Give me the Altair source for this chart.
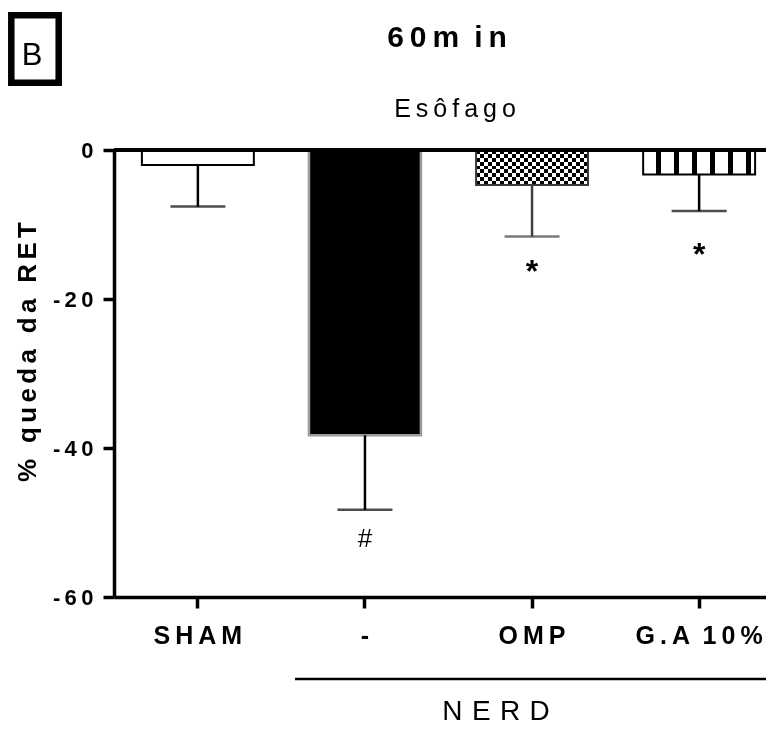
import altair as alt
import pandas as pd

# ---- data ----
groups = ["SHAM", "-", "OMP", "G.A 10%"]
means = [-2.0, -38.3, -4.7, -3.3]
sds = [5.6, 10.0, 6.9, 4.9]
marks = ["", "#", "*", "*"]
mark_y = [None, -52.2, -16.4, -14.1]
y_ticks = [0, -20, -40, -60]

title_txt = "60m in"
sub_txt = "Esôfago"
panel_txt = "B"
ytitle_txt = "% queda da RET"
group_txt = "NERD"

FONT = "Liberation Sans"
THIN = "\u2009"
SIX = "\u2006"
EN = "\u2002"


def spaced(s, sep=THIN):
    return sep.join(list(s))


df = pd.DataFrame({"group": groups, "mean": means, "sd": sds,
                   "mark": marks, "mark_y": mark_y})
df["low"] = df["mean"] - df["sd"]
one = pd.DataFrame({"k": [0]})

W, H = 652, 447
XR = 669

# ---- fill patterns (style only) ----
def alt_stops(n):
    stops = []
    for i in range(n):
        c = "#000000" if i % 2 == 0 else "#ffffff"
        stops.append(alt.GradientStop(offset=i / n, color=c))
        stops.append(alt.GradientStop(offset=(i + 1) / n, color=c))
    return stops

check_v = alt.LinearGradient(gradient="linear", stops=alt_stops(28), x1=0, x2=1, y1=0, y2=0)
check_h = alt.LinearGradient(gradient="linear", stops=alt_stops(9), x1=0, x2=0, y1=0, y2=1)

ga_stops = [alt.GradientStop(offset=0, color="#ffffff")]
start, width, period = 13 / 112, 5 / 112, 18 / 112
for k in range(6):
    a = start + k * period
    b = min(a + width, 1)
    ga_stops += [alt.GradientStop(offset=a, color="#ffffff"),
                 alt.GradientStop(offset=a, color="#000000"),
                 alt.GradientStop(offset=b, color="#000000"),
                 alt.GradientStop(offset=b, color="#ffffff")]
ga_stops.append(alt.GradientStop(offset=1, color="#ffffff"))
ga_grad = alt.LinearGradient(gradient="linear", stops=ga_stops, x1=0, x2=1, y1=0, y2=0)

# ---- encodings ----
xs = alt.Scale(domain=groups, range=[0, XR], paddingInner=0.33, paddingOuter=0.167)
x_label_expr = (f"replace(join(split(datum.label, ''), '{THIN}'), "
                f"regexp('{THIN} {THIN}', 'g'), '{EN}')")
x_axis = alt.Axis(title=None, labelExpr=x_label_expr,
                  labelFont=FONT, labelFontSize=25, labelFontWeight="bold",
                  labelColor="black", labelAngle=0, labelPadding=15,
                  tickSize=11, tickWidth=3.5, tickColor="black",
                  domainWidth=3.5, domainColor="black", grid=False)
X = alt.X("group:N", sort=groups, scale=xs, axis=x_axis)

ys = alt.Scale(domain=[-60, 0], nice=False, zero=False)
y_axis = alt.Axis(title=None, values=y_ticks,
                  labelExpr=f"join(split('' + datum.value, ''), '{THIN}')",
                  labelFont=FONT, labelFontSize=22, labelFontWeight="bold",
                  labelColor="black", labelPadding=10,
                  tickSize=11, tickWidth=3.5, tickColor="black",
                  domainWidth=3.5, domainColor="black", grid=False)


def Y(field):
    return alt.Y(field, type="quantitative", scale=ys, axis=y_axis)


base = alt.Chart(df)

def bar_layer(g, **kw):
    return base.transform_filter(alt.datum.group == g).mark_bar(**kw).encode(
        x=X, y=Y("mean"), y2=alt.datum(0))

sham = bar_layer("SHAM", fill="#ffffff", stroke="#000000", strokeWidth=2)
nerd = bar_layer("-", fill="#000000", stroke="#9b9b9b", strokeWidth=2.5)
omp_v = bar_layer("OMP", fill=check_v, strokeWidth=0)
omp_h = bar_layer("OMP", fill=check_h, strokeWidth=0, blend="difference")
omp_o = bar_layer("OMP", fill="transparent", stroke="#3a3a3a", strokeWidth=2)
ga = bar_layer("G.A 10%", fill=ga_grad, stroke="#000000", strokeWidth=2)

err_color = alt.Color("group:N", scale=alt.Scale(domain=groups,
                      range=["#000000", "#000000", "#404040", "#000000"]), legend=None)
err_line = base.mark_rule(strokeWidth=2.5).encode(x=X, y=Y("mean"), y2="low:Q", color=err_color)
err_cap = base.mark_tick(size=55, thickness=2.5).encode(x=X, y=Y("low"), color=err_color)

sig_hash = base.transform_filter(alt.datum.mark == "#").mark_text(
    font=FONT, fontSize=26, baseline="middle", color="black").encode(
    x=X, y=Y("mark_y"), text="mark:N")
sig_star = base.transform_filter(alt.datum.mark == "*").mark_text(
    font=FONT, fontSize=32, fontWeight="bold", baseline="middle", color="black").encode(
    x=X, y=Y("mark_y"), text="mark:N")

zero_line = alt.Chart(one).mark_rule(color="black", strokeWidth=4).encode(
    x=alt.value(0), x2=alt.value(XR), y=alt.value(0))

# ---- annotations ----
title = alt.Chart(one).mark_text(font=FONT, fontSize=30, fontWeight="bold",
                                 baseline="alphabetic", align="center").encode(
    x=alt.value(333), y=alt.value(-103),
    text=alt.value(THIN.join(["6", "0", "m\u2002i", "n"])))
subtitle = alt.Chart(one).mark_text(font=FONT, fontSize=25, baseline="alphabetic",
                                    align="center").encode(
    x=alt.value(341), y=alt.value(-33), text=alt.value(spaced(sub_txt)))
panel_box = alt.Chart(one).mark_rect(fill="transparent", stroke="black", strokeWidth=6.5).encode(
    x=alt.value(-102.7), x2=alt.value(-55.3), y=alt.value(-134.7), y2=alt.value(-67.3))
panel = alt.Chart(one).mark_text(font=FONT, fontSize=31, baseline="alphabetic",
                                 align="center").encode(
    x=alt.value(-82), y=alt.value(-85), text=alt.value(panel_txt))
ytitle = alt.Chart(one).mark_text(font=FONT, fontSize=26, fontWeight="bold",
                                  baseline="alphabetic", align="center", angle=270).encode(
    x=alt.value(-78.5), y=alt.value(202), text=alt.value(spaced(ytitle_txt, SIX)))
bracket = alt.Chart(one).mark_rule(color="black", strokeWidth=2.5).encode(
    x=alt.value(181), x2=alt.value(XR), y=alt.value(529))
bracket_txt = alt.Chart(one).mark_text(font=FONT, fontSize=28, baseline="alphabetic",
                                       align="center").encode(
    x=alt.value(382), y=alt.value(570), text=alt.value(spaced(group_txt, "\u2004")))

chart = alt.layer(
    sham, nerd, omp_v, omp_h, omp_o, ga, err_line, err_cap, sig_hash, sig_star, zero_line,
    title, subtitle, panel_box, panel, ytitle, bracket, bracket_txt
).properties(
    width=W, height=H,
    padding={"left": 106, "top": 142, "right": 0, "bottom": 130},
    autosize=alt.AutoSizeParams(type="none"),
).configure_view(stroke=None)

chart.save("out.html", embed_options={"renderer": "svg", "actions": False})
